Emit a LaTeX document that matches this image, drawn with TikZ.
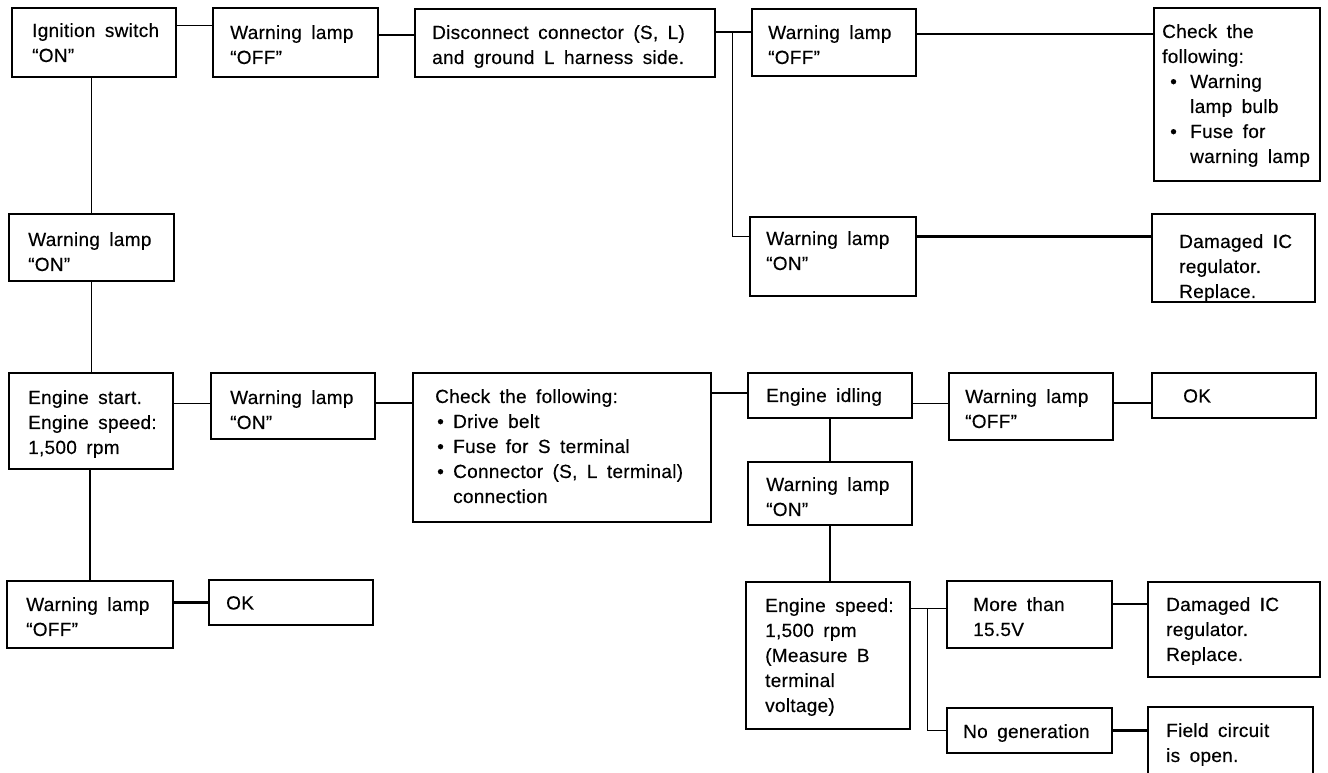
\documentclass[tikz,border=0pt]{standalone}
\usepackage{fontspec}
\setmainfont{Liberation Sans}[LetterSpace=1.5,WordSpace=1.7,FakeBold=0.3]
\usetikzlibrary{fit,calc}
\newcommand\bul[2]{\hspace*{#1}\makebox[#2][l]{•}}
\newcommand\fbx[8]{%
  \node[box, fit={(#2,#3) (#4,#5)}] (#1) {};
  \node[txt] (#1t) at (#2+#6,#3+#7) {#8};}
\begin{document}
\begin{tikzpicture}[x=1pt,y=-1pt,
  box/.style={draw, line width=1.8pt, inner sep=0pt},
  txt/.style={anchor=north west, inner sep=0pt, align=left, font=\fontsize{19}{25}\selectfont},
  lthin/.style={line width=1pt},
  lmed/.style={line width=1.8pt},
  lthick/.style={line width=2.8pt}]
\clip (0,0) rectangle (1328,772);
\fill[white] (0,0) rectangle (1328,772);
% boxes
\fbx{A}{12}{8}{176}{77}{20}{15}{Ignition switch\\“ON”}
\fbx{B}{213}{8}{378}{77}{17}{17}{Warning lamp\\“OFF”}
\fbx{C}{415}{9}{715}{77}{17}{16}{Disconnect connector (S, L)\\and ground L harness side.}
\fbx{D}{752}{9}{916}{76}{16}{16}{Warning lamp\\“OFF”}
\fbx{E}{1154}{8}{1320}{181}{8}{16}{Check the\\following:\\\bul{8pt}{20pt}Warning\\\hspace*{28pt}lamp bulb\\\bul{8pt}{20pt}Fuse for\\\hspace*{28pt}warning lamp}
\fbx{F}{750}{217}{916}{296}{16}{14}{Warning lamp\\“ON”}
\fbx{Qa}{1152}{214}{1315}{302}{27}{20}{Damaged IC\\regulator.\\Replace.}
\fbx{G}{9}{214}{174}{281}{19}{18}{Warning lamp\\“ON”}
\fbx{H}{9}{373}{173}{469}{19}{17}{Engine start.\\Engine speed:\\1,500 rpm}
\fbx{I}{211}{373}{375}{439}{19}{17}{Warning lamp\\“ON”}
\fbx{J}{413}{373}{711}{522}{22}{16}{Check the following:\\\bul{2pt}{16pt}Drive belt\\\bul{2pt}{16pt}Fuse for S terminal\\\bul{2pt}{16pt}Connector (S, L terminal)\\\hspace*{18pt}connection}
\fbx{K}{748}{373}{912}{418}{18}{15}{Engine idling}
\fbx{L}{748}{462}{912}{525}{18}{15}{Warning lamp\\“ON”}
\fbx{M}{949}{373}{1113}{440}{16}{16}{Warning lamp\\“OFF”}
\fbx{N}{1152}{373}{1316}{418}{31}{16}{OK}
\fbx{O}{746}{582}{910}{729}{19}{16}{Engine speed:\\1,500 rpm\\(Measure B\\terminal\\voltage)}
\fbx{P}{947}{581}{1112}{648}{26}{16}{More than\\15.5V}
\fbx{Q}{1148}{582}{1320}{677}{18}{15}{Damaged IC\\regulator.\\Replace.}
\fbx{R}{947}{708}{1112}{753}{16}{16}{No generation}
\fbx{S}{1148}{707}{1313}{790}{18}{16}{Field circuit\\is open.}
\fbx{T}{7}{581}{173}{648}{19}{16}{Warning lamp\\“OFF”}
\fbx{U}{209}{580}{373}{625}{17}{16}{OK}
% connectors
\draw[lthin] ($(A.east)+(0,-17.5)$) coordinate (ab) -- (ab -| B.west);
\draw[lmed] ($(B.east)+(0,-7.5)$) coordinate (bc) -- (bc -| C.west);
\draw[lmed] ($(C.east)+(0,-11)$) coordinate (cd) -- (cd -| D.west);
\coordinate (j1) at ($(cd)+(16.5,0)$);
\draw[lmed] (j1) |- ($(F.west)+(0,-20)$);
\draw[line width=2.2pt] ($(D.east)+(0,-8.5)$) coordinate (de) -- (de -| E.west);
\draw[line width=2.2pt] ($(F.east)+(0,-20)$) coordinate (fq) -- (fq -| Qa.west);
\draw[lmed] (G.north) -- (G.north |- A.south);
\draw[lmed] (G.south) -- (G.south |- H.north);
\draw[lthin] ($(H.east)+(0,-18)$) coordinate (hi) -- (hi -| I.west);
\draw[lmed] ($(I.east)+(0,-3)$) coordinate (ij) -- (ij -| J.west);
\draw[lmed] ($(K.west)+(0,-2.5)$) coordinate (kj) -- (kj -| J.east);
\draw[lmed] (K.south) -- (K.south |- L.north);
\draw[lthin] ($(K.east)+(0,7.5)$) coordinate (km) -- (km -| M.west);
\draw[lthick] ($(M.east)+(0,-3.5)$) coordinate (mn) -- (mn -| N.west);
\draw[lmed] (L.south) -- (L.south |- O.north);
\draw[lthin] ($(O.east)+(0,-47.5)$) coordinate (op) -- (op -| P.west);
\coordinate (j2) at ($(op)+(17,0)$);
\draw[lthin] (j2) |- (R.west);
\draw[lthick] ($(P.east)+(0,-10.5)$) coordinate (pq) -- (pq -| Q.west);
\draw[lthick] (R.east) -- (R.east -| S.west);
\draw[lmed] (T.north) -- (T.north |- H.south);
\draw[lthick] (U.west) -- (U.west -| T.east);
\end{tikzpicture}
\end{document}
